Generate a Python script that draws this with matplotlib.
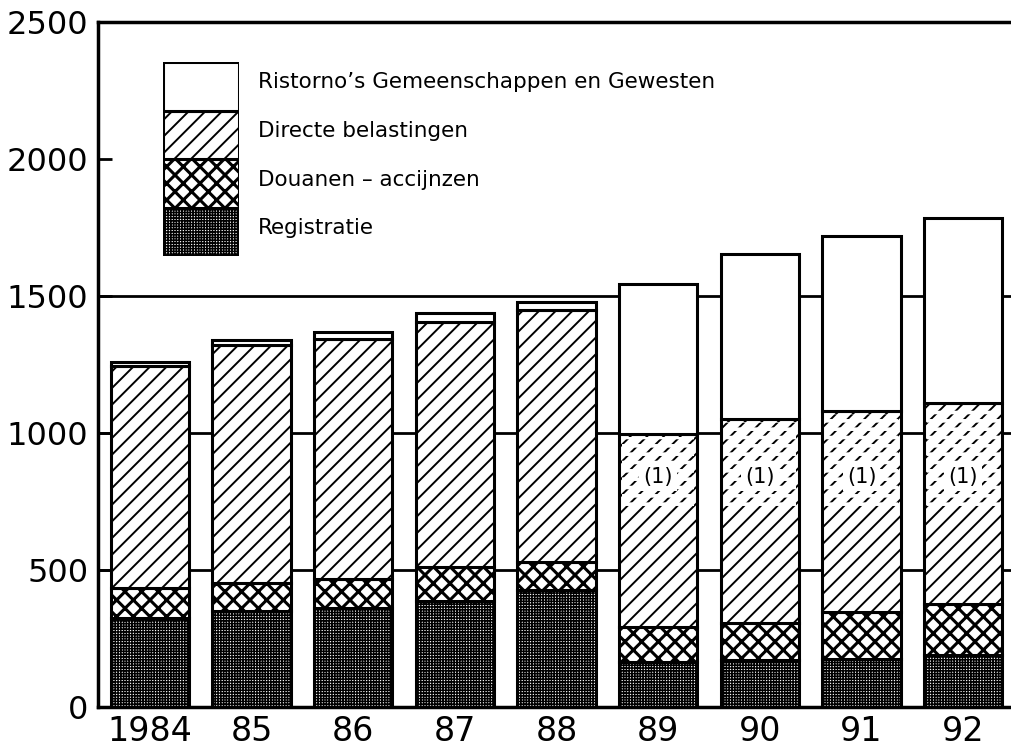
import matplotlib.pyplot as plt
import numpy as np

years = ["1984", "85", "86", "87", "88", "89", "90", "91", "92"]
registratie = [325, 350, 360, 385, 425, 165, 170, 175, 190]
douanen = [110, 100, 105, 125, 105, 125, 135, 170, 185]
directe = [810, 870, 880, 895, 920, 705, 745, 735, 735]
ristorno = [13, 20, 23, 35, 28, 550, 605, 640, 675]
note_years = ["89", "90", "91", "92"]
note_from = 720   # below this the hatch of the (1) bars is solid

series_names = ["Registratie", "Douanen – accijnzen", "Directe belastingen",
                "Ristorno’s Gemeenschappen en Gewesten"]
hatches = ['++++++', 'xx', '//', None]
hatch_lw = [1.1, 2.2, 1.4, 1.0]

plt.rcParams['font.family'] = ['DejaVu Sans']

fig = plt.figure(figsize=(10.11, 7.47), dpi=100)
ax = fig.add_axes([0.097, 0.054, 0.906, 0.916])

x = np.arange(len(years))
w = 0.77

for yv in [500, 1000, 1500]:
    ax.axhline(yv, color='black', lw=2, zorder=0)

vals = [registratie, douanen, directe, ristorno]
bottom = np.zeros(len(years))
tops = []
for v, h, hl in zip(vals, hatches, hatch_lw):
    plt.rcParams['hatch.linewidth'] = hl
    ax.bar(x, v, w, bottom=bottom, color='white', edgecolor='black', lw=2.2,
           hatch=h, zorder=2)
    bottom = bottom + np.array(v)
    tops.append(bottom.copy())
b3 = tops[2]

# broken hatch in the upper part of the (1) bars: white horizontal hatch on top
idx = [years.index(yr) for yr in note_years]
plt.rcParams['hatch.linewidth'] = 2.6
ax.bar(x[idx], b3[idx] - note_from - 10, w - 0.06, bottom=note_from,
       color='none', edgecolor='white', lw=0, hatch='--', zorder=2.5)

for i in idx:
    ax.text(x[i], 840, "(1)", ha='center', va='center', fontsize=15,
            family='Liberation Sans Narrow',
            bbox=dict(facecolor='white', edgecolor='none', pad=3), zorder=3)

# legend: a small stacked column with the labels beside it
lax = fig.add_axes([0.161, 0.657, 0.075, 0.26])
for k, (h, hl) in enumerate(zip(hatches, hatch_lw)):
    plt.rcParams['hatch.linewidth'] = hl
    lax.bar(0, 1, 1, bottom=k, color='white', edgecolor='black', lw=2.2, hatch=h)
    fig.text(0.255, 0.657 + 0.26 * (k + 0.58) / 4, series_names[k],
             fontsize=15.5, va='center', ha='left')
lax.set_xlim(-0.5, 0.5)
lax.set_ylim(0, 4)
lax.axis('off')

ax.set_xlim(-0.51, 8.5)
ax.set_ylim(0, 2500)
ax.set_yticks([0, 500, 1000, 1500, 2000, 2500])
ax.set_xticks(x)
ax.set_xticklabels(years)
ax.tick_params(axis='y', direction='in', length=10, width=2, labelsize=23, pad=7)
ax.tick_params(axis='x', length=0, labelsize=24, pad=6)
for s in ['left', 'bottom', 'top']:
    ax.spines[s].set_linewidth(2.5)
ax.spines['right'].set_visible(False)

fig.savefig('out.png', dpi=100)
